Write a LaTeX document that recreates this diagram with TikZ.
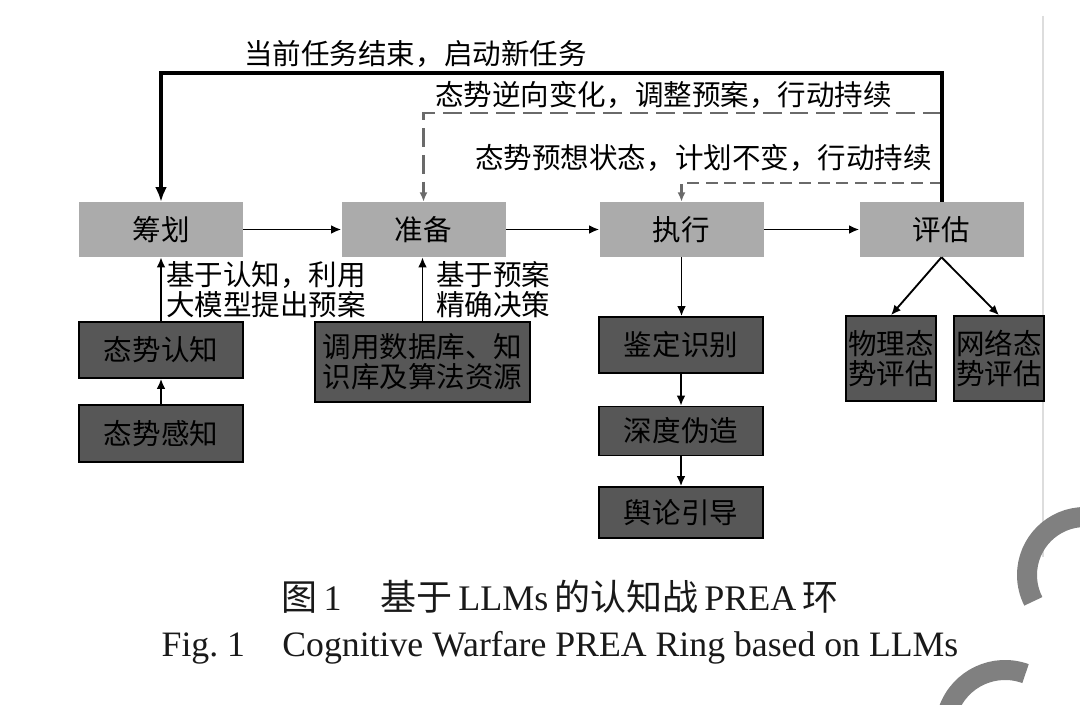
\documentclass[tikz,border=0pt]{standalone}
\usepackage{fontspec}
\setmainfont{Liberation Serif}
\newfontfamily\cjk{Noto Sans CJK SC}
\usetikzlibrary{arrows.meta}
\definecolor{lightbox}{HTML}{ABABAB}
\definecolor{darkbox}{HTML}{575757}
\definecolor{dashgray}{HTML}{6A6A6A}
\definecolor{arcgray}{HTML}{808080}
\definecolor{rulegray}{HTML}{DDDDDD}
\begin{document}
\begin{tikzpicture}[x=0.75pt,y=-0.75pt,
  cjkfont/.style={font=\cjk\fontsize{21.4pt}{22.5pt}\selectfont},
  lightnode/.style={cjkfont, fill=lightbox, inner sep=0pt, minimum width=123pt, minimum height=41.25pt},
  darknode/.style={cjkfont, fill=darkbox, draw=black, line width=1.2pt, inner sep=0pt, align=center, text=black},
  lbl/.style={cjkfont, inner sep=0pt, anchor=west, align=left},
  conn/.style={line width=1.4pt, -{Latex[length=7.5pt,width=6.5pt]}},
  bigconn/.style={line width=3pt, line join=miter, -{Latex[length=11pt,width=9pt]}},
  dashA/.style={dashgray, line width=2.2pt, dash pattern=on 14pt off 6pt, -{Latex[length=7pt,width=6pt]}},
  dashB/.style={dashgray, line width=2.2pt, dash pattern=on 9pt off 5pt, -{Latex[length=7pt,width=6pt]}},
  captext/.style={inner sep=0pt, text=black!90}
]
\useasboundingbox (0,0) rectangle (1080,705);

% decorative elements
\draw[rulegray, line width=0.8pt] (1043,16) -- (1043,557);
\begin{scope}
  \clip (0,0) rectangle (1080,705);
  \draw[arcgray, line width=15pt] (1085,575) ++(-90:58) arc[start angle=-90, end angle=-207, radius=58];
  \draw[arcgray, line width=15pt] (1005,730) ++(-70:60) arc[start angle=-70, end angle=-200, radius=60];
\end{scope}

% main boxes
\node[lightnode] (plan) at (161,229.5) {筹划};
\node[lightnode] (prep) at (423.5,229.5) {准备};
\node[lightnode] (exec) at (681.5,229.5) {执行};
\node[lightnode] (eval) at (941.5,229.5) {评估};

% sub boxes
\node[darknode, minimum width=123pt, minimum height=42pt] (cog) at (161,350) {态势认知};
\node[darknode, minimum width=123pt, minimum height=42.75pt] (sense) at (161,433.5) {态势感知};
\node[darknode, minimum width=161.25pt, minimum height=60pt] (db) at (422.5,362) {调用数据库、知\\识库及算法资源};
\node[darknode, minimum width=123pt, minimum height=42pt] (ident) at (681,345) {鉴定识别};
\node[darknode, minimum width=123pt, minimum height=36.75pt] (deep) at (681,431) {深度伪造};
\node[darknode, minimum width=123pt, minimum height=38.25pt] (opin) at (681,512.5) {舆论引导};
\node[darknode, minimum width=67.5pt, minimum height=63.75pt] (phys) at (891,358.5) {物理态\\势评估};
\node[darknode, minimum width=67.5pt, minimum height=63.75pt] (net) at (999,358.5) {网络态\\势评估};

% labels
\node[lbl] (ltop) at (244,54) {当前任务结束，启动新任务};
\node[lbl] (lrev) at (435,95) {态势逆向变化，调整预案，行动持续};
\node[lbl] (lexp) at (475,158) {态势预想状态，计划不变，行动持续};
\node[lbl] (lcog) at (166,290) {基于认知，利用\\大模型提出预案};
\node[lbl] (ldb) at (436,290) {基于预案\\精确决策};

% horizontal flow
\draw[conn] (plan) -- (prep);
\draw[conn] (prep) -- (exec);
\draw[conn] (exec) -- (eval);

% vertical flows
\draw[conn] (exec.south) -- (exec.south |- ident.north);
\draw[conn] (ident.south) -- (ident.south |- deep.north);
\draw[conn] (deep.south) -- (deep.south |- opin.north);
\draw[conn] (eval.south) -- (phys.north);
\draw[conn] (eval.south) -- (net.north);
\draw[conn] (sense.north) -- (sense.north |- cog.south);
\draw[conn] (cog.north) -- (cog.north |- plan.south);
\draw[conn] (db.north) -- (db.north |- prep.south);

% feedback loops
\coordinate (ytop) at (0,73);
\coordinate (yrev) at (0,113);
\coordinate (yexp) at (0,183);
\draw[dashA] (eval.north |- yrev) -| (prep.north);
\draw[dashB] (eval.north |- yexp) -| (exec.north);
\draw[bigconn] (eval.north) -- (eval.north |- ytop) -| (plan.north);

% captions
\node[captext] (cap1) at (560,597) {\fontsize{27pt}{30pt}\selectfont{\cjk 图}\,1\hspace{29pt}{\cjk 基于}\,LLMs\,{\cjk 的认知战}\,PREA\,{\cjk 环}};
\node[captext] (cap2) at (560,648) {\fontsize{26.8pt}{30pt}\selectfont Fig.~1\hspace{28pt}Cognitive Warfare PREA Ring based on LLMs};
\end{tikzpicture}
\end{document}
